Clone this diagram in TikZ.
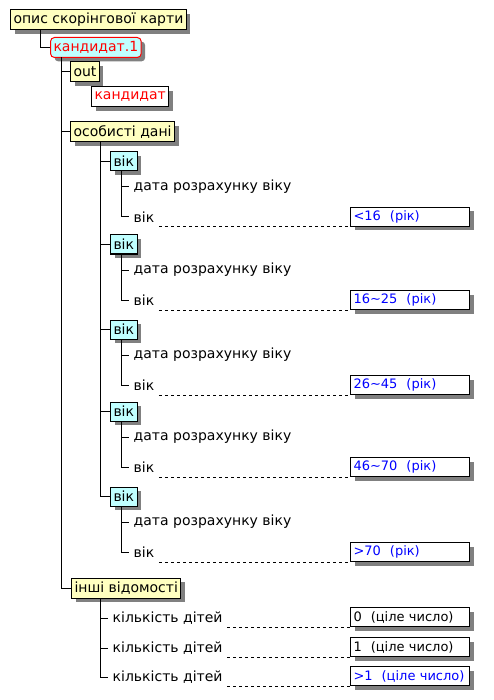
\documentclass[tikz,border=0pt]{standalone}
\usepackage{fontspec}
\setmainfont{DejaVu Sans}
\usepackage{tikz}
\usetikzlibrary{positioning, shadows}
\tikzstyle{diagram} = [x = 1pt, y = -1pt, font=\fontsize{14}{16}\selectfont]
\definecolor{noteYellow}{RGB}{255,255,192}
\definecolor{groupCyan}{RGB}{192,255,255}
\definecolor{shadowGray}{RGB}{128,128,128}
\definecolor{valueBlue}{RGB}{0,0,255}
\tikzstyle{shadowed} = [drop shadow={shadow xshift=4pt, shadow yshift=-4pt, fill=shadowGray, opacity=1}]
\tikzstyle{treeBox} = [draw, line width=1pt, shadowed, minimum height=20pt, inner xsep=3pt, inner ysep=0pt, anchor=west]
\tikzstyle{sectionBox} = [treeBox, fill=noteYellow]
\tikzstyle{groupBox} = [treeBox, fill=groupCyan, minimum height=19pt]
\tikzstyle{itemText} = [inner xsep=4.5pt, inner ysep=2pt, anchor=west]
\tikzstyle{valueBox} = [draw, line width=1pt, fill=white, shadowed, minimum height=19pt, text width=113pt, inner xsep=3pt, inner ysep=0pt, align=left, anchor=north west, font=\fontsize{13}{15}\selectfont]
\tikzstyle{treeLine} = [line width=1pt]
\tikzstyle{leaderLine} = [line width=1pt, dash pattern=on 3pt off 3pt]
\newcommand{\gap}{\hspace{9pt}}
% one "вік" group: name, top, value text
\newcommand{\ageGroup}[3]{
  \node [groupBox] (age#1) at (110, #2 + 9.5) {вік};
  \draw [treeLine] (personalTrunk) |- (age#1.west);
  \coordinate (age#1Trunk) at (121, #2 + 19);
  \node [itemText] (age#1Date) at (129, #2 + 35) {дата розрахунку віку};
  \node [itemText] (age#1Label) at (129, #2 + 65) {вік};
  \draw [treeLine] (age#1Trunk) |- (age#1Date.west);
  \draw [treeLine] (age#1Trunk) |- (age#1Label.west);
  \node [valueBox, text=valueBlue] (age#1Value) at (350, #2 + 55) {\mbox{#3}};
  \draw [leaderLine] (age#1Label.east |- age#1Value.south) -- (age#1Value.south west);
}
% one "кількість дітей" row: name, centre y, value text, colour
\newcommand{\childRow}[4]{
  \node [itemText] (child#1Label) at (108, #2) {кількість дітей};
  \draw [treeLine] (otherTrunk) |- (child#1Label.west);
  \node [valueBox, text=#4] (child#1Value) at (350, #2 - 11) {\mbox{#3}};
  \draw [leaderLine] (child#1Label.east |- child#1Value.south) -- (child#1Value.south west);
}

\begin{document}
\begin{tikzpicture}[diagram]
  \useasboundingbox (0,0) rectangle (493,700);

  \node [sectionBox, minimum width=156pt] (title) at (10,20) {опис скорінгової карти};
  \node [treeBox, fill=groupCyan, text=red, draw=red, rounded corners=4pt, minimum width=76pt] (cand) at (50,47.5) {кандидат.1};
  \coordinate (titleTrunk) at (40,30);
  \draw [treeLine] (titleTrunk) |- (cand.west);

  \coordinate (candTrunk) at (61,57.5);
  \node [sectionBox] (out) at (70,72) {out};
  \node [treeBox, fill=white, text=red, minimum width=64pt] (outValue) at (91,97) {кандидат};
  \node [sectionBox, minimum width=93pt] (personal) at (70,132) {особисті дані};
  \node [sectionBox, minimum width=93pt] (other) at (71,588) {інші відомості};
  \draw [treeLine] (candTrunk) |- (out.west);
  \draw [treeLine] (candTrunk) |- (personal.west);
  \draw [treeLine] (candTrunk) |- (other.west);

  \coordinate (personalTrunk) at (100,142);
  \ageGroup{1}{152}{<16\gap(рік)}
  \ageGroup{2}{235}{16\textasciitilde25\gap(рік)}
  \ageGroup{3}{320}{26\textasciitilde45\gap(рік)}
  \ageGroup{4}{402}{46\textasciitilde70\gap(рік)}
  \ageGroup{5}{487}{>70\gap(рік)}

  \coordinate (otherTrunk) at (100,598);
  \childRow{1}{618}{0\gap(ціле число)}{black}
  \childRow{2}{648}{1\gap(ціле число)}{black}
  \childRow{3}{677}{>1\gap(ціле число)}{valueBlue}
\end{tikzpicture}
\end{document}
